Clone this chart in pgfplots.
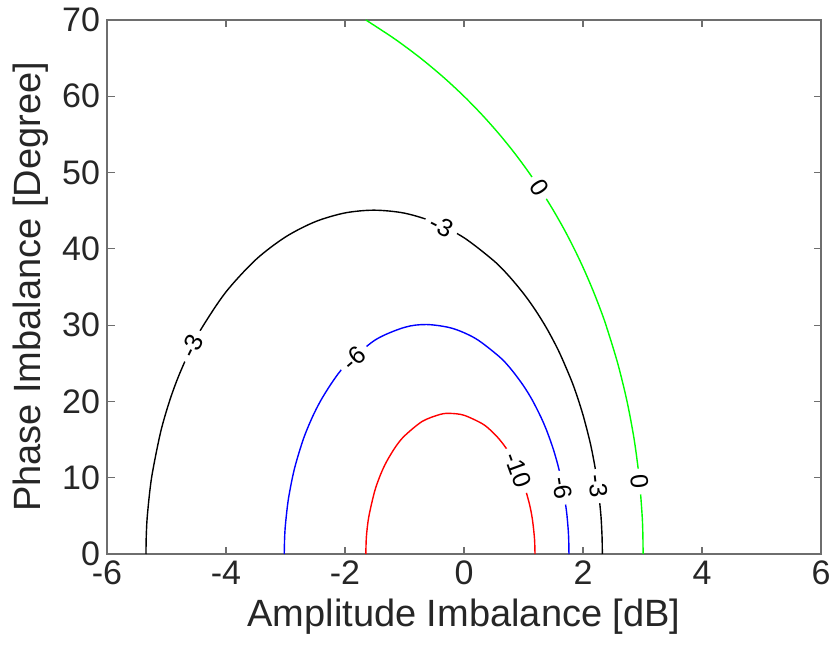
\documentclass[border=0pt]{standalone}
\usepackage{pgfplots}
\pgfplotsset{compat=1.18}
\usepackage{fontspec}
\setmainfont{Liberation Sans}

\definecolor{axgray}{RGB}{110,110,110}
\definecolor{txt}{RGB}{38,38,38}
\definecolor{mgreen}{RGB}{0,255,0}

% contour levels: (amplitude dB, phase deg)
\pgfplotstableread{
x y
-1.650 0
-1.640 2.31
-1.600 4.89
-1.500 8.27
-1.400 10.46
-1.300 12.13
-1.150 14.05
-1.000 15.48
-0.700 17.39
-0.400 18.30
-0.230 18.43
0.000 18.19
0.300 17.11
0.450 16.20
0.600 14.98
0.750 13.38
0.900 11.22
1.000 9.28
1.100 6.54
1.150 4.51
1.185 1.99
1.193 0
}\lvlten
\pgfplotstableread{
x y
-3.021 0
-3.015 2.08
-3.000 3.94
-2.950 7.27
-2.850 11.17
-2.700 15.06
-2.550 17.92
-2.400 20.22
-2.200 22.69
-2.000 24.65
-1.500 28.02
-1.000 29.71
-0.628 30.08
-0.200 29.59
0.200 28.22
0.600 25.82
0.800 24.14
1.000 22.05
1.150 20.14
1.300 17.82
1.400 15.97
1.500 13.76
1.580 11.59
1.650 9.19
1.720 5.77
1.750 3.30
1.760 1.82
1.764 0
}\lvlsix
\pgfplotstableread{
x y
-5.345 0
-5.340 2.40
-5.320 5.20
-5.250 10.04
-5.100 15.94
-4.950 20.02
-4.800 23.25
-4.600 26.79
-4.400 29.72
-4.000 34.36
-3.500 38.58
-3.000 41.56
-2.500 43.56
-2.000 44.71
-1.510 45.07
-1.000 44.68
-0.500 43.49
0.000 41.46
0.500 38.44
0.750 36.48
1.000 34.15
1.200 31.97
1.400 29.44
1.600 26.46
1.800 22.85
1.900 20.70
2.000 18.23
2.100 15.27
2.150 13.52
2.200 11.46
2.250 8.90
2.300 5.14
2.320 2.25
2.325 0
}\lvlthree
\pgfplotstableread{
x y
3.010 0
3.006 2.5
2.994 5
2.944 10
2.860 15
2.740 20
2.583 25
2.386 30
2.271 32.5
2.144 35
2.005 37.5
1.853 40
1.687 42.5
1.505 45
1.307 47.5
1.091 50
0.855 52.5
0.596 55
0.312 57.5
0.000 60
-0.346 62.5
-0.730 65
-1.161 67.5
-1.649 70
}\lvlzero

\begin{document}
\begin{tikzpicture}
\begin{axis}[
    scale only axis, width=357pt, height=267pt,
    xmin=-6, xmax=6, ymin=0, ymax=70,
    xtick={-6,-4,...,6}, ytick={0,10,...,70},
    tick pos=both, ticklabel pos=left,
    tick align=inside, major tick length=3.75pt,
    axis line style={axgray, line width=0.6pt},
    tick style={axgray, line width=0.6pt},
    /pgf/number format/assume math mode=true,
    tick label style={font=\fontsize{17}{17}\selectfont, text=txt},
    label style={font=\fontsize{19}{19}\selectfont, text=txt},
    xlabel={Amplitude Imbalance [dB]},
    ylabel={Phase Imbalance [Degree]},
    clip=true,
]
\addplot[red, line width=0.7pt, smooth, tension=0.5] table[x=x,y=y] {\lvlten};
\addplot[blue, line width=0.7pt, smooth, tension=0.5] table[x=x,y=y] {\lvlsix};
\addplot[black, line width=0.7pt, smooth, tension=0.5] table[x=x,y=y] {\lvlthree};
\addplot[mgreen, line width=0.7pt, smooth, tension=0.5] table[x=x,y=y] {\lvlzero};

\begin{scope}[every node/.style={fill=white, inner xsep=3pt, inner ysep=0.5pt, font=\fontsize{12.5}{12.5}\selectfont}]
\node[rotate=-57] at (axis cs:1.265,48) {0};
\node[rotate=-84] at (axis cs:2.95,9.5) {0};
\node[rotate=-27] at (axis cs:-0.38,43.0) {-3};
\node[rotate=64] at (axis cs:-4.57,27.27) {-3};
\node[rotate=-84] at (axis cs:2.25,8.9) {-3};
\node[rotate=41] at (axis cs:-1.85,25.66) {-6};
\node[rotate=-81] at (axis cs:1.66,8.7) {-6};
\node[rotate=-70] at (axis cs:0.91,11.0) {-10};
\end{scope}

\coordinate (ll) at (rel axis cs:0,0);
\coordinate (ur) at (rel axis cs:1,1);
\end{axis}
\pgfresetboundingbox
\path ([shift={(-53.5pt,-54pt)}]ll) rectangle ([shift={(6pt,10pt)}]ur);
\end{tikzpicture}
\end{document}
